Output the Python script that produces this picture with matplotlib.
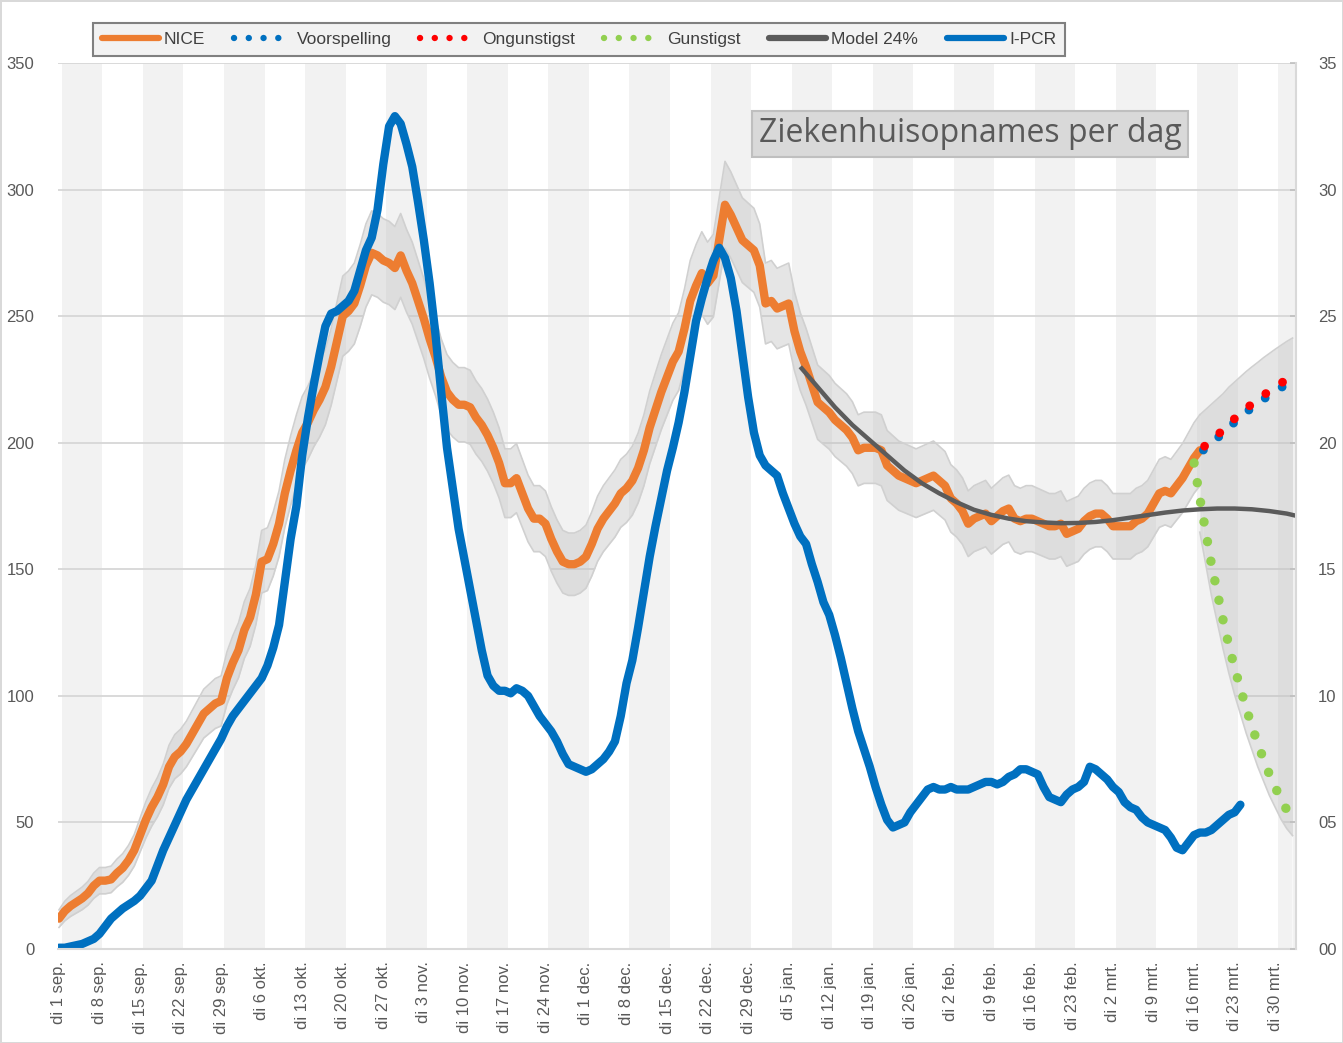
import numpy as np
import matplotlib
matplotlib.use("Agg")
import matplotlib.pyplot as plt
from matplotlib.lines import Line2D
from matplotlib.patches import Rectangle

# ---------------- data ----------------
# day index 0 = di 1 sep.
nice = [12, 15, 17, 18.5, 20, 22, 25, 27, 27, 27.5,
        30, 32, 35, 39, 45, 51, 56, 60, 65, 72,
        76, 78, 81, 85, 89, 93, 95, 97, 98, 107,
        113, 118, 126, 131, 140, 153, 154, 160, 168, 180,
        189, 197, 204, 208, 213, 217, 222, 230, 240, 250,
        252, 255, 262, 270, 275, 274, 272, 271, 269, 274,
        268, 263, 256, 249, 241, 234, 226, 220, 217, 215,
        215, 214, 210, 207, 203, 198, 192, 184, 184, 186,
        180, 174, 170, 170, 168, 162, 157, 153, 152, 152,
        153, 155, 160, 166, 170, 173, 176, 180, 182, 185,
        190, 197, 206, 213, 220, 226, 232, 236, 245, 256,
        262, 267, 263, 266, 280, 294, 290, 285, 280, 278,
        276, 270, 255, 256, 253, 254, 255, 244, 236, 230,
        223, 216, 214, 212, 209, 207, 205, 202, 197, 198,
        198, 198, 197, 191, 189, 187, 186, 185, 184, 185,
        186, 187, 185, 183, 178, 176, 173, 168, 170, 171,
        172, 169, 171, 173, 174, 170, 169, 170, 170, 169,
        168, 167, 167, 168, 164, 165, 166, 169, 171, 172,
        172, 170, 167, 167, 167, 167, 169, 170, 172, 176,
        180, 181, 180, 183, 186, 190, 194, 197]

ipcr = [0.5, 0.5, 1, 1.5, 2, 3, 4, 6, 9, 12,
        14, 16, 17.5, 19, 21, 24, 27, 33, 39, 44,
        49, 54, 59, 63, 67, 71, 75, 79, 83, 88,
        92, 95, 98, 101, 104, 107, 112, 119, 128, 145,
        162, 175, 195, 210, 223, 235, 246, 251, 252, 254,
        256, 260, 268, 276, 281, 292, 310, 325, 329, 326,
        318, 309, 295, 280, 263, 243, 220, 198, 182, 166,
        154, 142, 130, 118, 108, 104, 102, 102, 101, 103,
        102, 100, 96, 92, 89, 86, 82, 77, 73, 72,
        71, 70, 71, 73, 75, 78, 82, 92, 105, 114,
        127, 141, 155, 167, 178, 189, 198, 208, 220, 234,
        248, 257, 265, 272, 277, 273, 265, 252, 235, 218,
        204, 195, 191, 189, 187, 180, 174, 168, 163, 160,
        152, 145, 137, 132, 124, 115, 105, 95, 86, 79,
        72, 64, 57, 51, 48, 49, 50, 54, 57, 60,
        63, 64, 63, 63, 64, 63, 63, 63, 64, 65,
        66, 66, 65, 66, 68, 69, 71, 71, 70, 69,
        64, 60, 59, 58, 61, 63, 64, 66, 72, 71,
        69, 67, 64, 62, 58, 56, 55, 52, 50, 49,
        48, 47, 44, 40, 39, 42, 45, 46, 46, 47,
        49, 51, 53, 54, 57]

model_days = [128, 131, 134, 137, 140, 143, 146, 149, 152, 155, 158, 161,
              164, 167, 170, 173, 176, 179, 182, 185, 188, 191, 194, 197,
              200, 203, 206, 209, 212, 213.5]
model_vals = [230, 222, 214, 207, 201, 195, 189, 184, 180, 176.5, 173.5, 171.5,
              170, 169, 168.5, 168.2, 168.3, 168.7, 169.4, 170.4, 171.4, 172.4,
              173.2, 173.7, 174, 174, 173.7, 173, 172, 171.2]

gunstig_start = 196
gunstigst = [192, 178, 165, 152, 141, 130, 120, 111, 103, 95, 88, 81, 75, 69, 64, 59, 55, 52]
fc_start = 197
ongunstigst = [197, 199, 201, 203, 205, 207.5, 209.5, 211.5, 213.5, 215.3, 217,
               218.8, 220.4, 222, 223.5, 225, 226.3]
voorspelling = [196, 197.8, 199.8, 201.8, 203.8, 206.1, 208.1, 210.1, 212.1, 213.8, 215.5,
                217.2, 218.8, 220.3, 221.7, 223.2, 224.5]

band_k = 1.0  # half-width of the grey uncertainty band ~ k*sqrt(value)

tick_labels = ["di 1 sep.", "di 8 sep.", "di 15 sep.", "di 22 sep.", "di 29 sep.",
               "di 6 okt.", "di 13 okt.", "di 20 okt.", "di 27 okt.", "di 3 nov.",
               "di 10 nov.", "di 17 nov.", "di 24 nov.", "di 1 dec.", "di 8 dec.",
               "di 15 dec.", "di 22 dec.", "di 29 dec.", "di 5 jan.", "di 12 jan.",
               "di 19 jan.", "di 26 jan.", "di 2 feb.", "di 9 feb.", "di 16 feb.",
               "di 23 feb.", "di 2 mrt.", "di 9 mrt.", "di 16 mrt.", "di 23 mrt.",
               "di 30 mrt."]

# ---------------- styling ----------------
C_OR = "#ED7D31"
C_BL = "#0070C0"
C_GR = "#92D050"
C_RD = "#FF0000"
C_MOD = "#5B5B5B"
C_TXT = "#595959"
BANDFILL = "#bfbfbf"

W, H = 1343, 1043
fig = plt.figure(figsize=(W / 100, H / 100), dpi=100)
fig.patch.set_facecolor("white")
fig.patch.set_edgecolor("#d9d9d9")
fig.patch.set_linewidth(2)

ax = fig.add_axes([58 / W, 94 / H, (1296 - 58) / W, (949 - 63) / H])
ax.set_xlim(-0.17, 213.6)
ax.set_ylim(0, 350)

nice = np.array(nice, float)
ipcr = np.array(ipcr, float)
d_nice = np.arange(len(nice))
d_ipcr = np.arange(len(ipcr))
d_gun = gunstig_start + np.arange(len(gunstigst))
d_fc = fc_start + np.arange(len(ongunstigst))
gun = np.array(gunstigst, float)
ong = np.array(ongunstigst, float)
vrs = np.array(voorspelling, float)

n_up = nice + band_k * np.sqrt(nice)
n_lo = nice - band_k * np.sqrt(nice)
gun_fc = gun[d_gun >= fc_start]
f_up = ong + band_k * np.sqrt(ong)
f_lo = gun_fc - band_k * np.sqrt(gun_fc)

# weekly alternating background columns
n_weeks = 16
for k in range(n_weeks):
    ax.axvspan(0.5 + 14 * k, 7.5 + 14 * k, color="#f2f2f2", lw=0, zorder=0)

# gridlines
yt = list(range(0, 351, 50))
for v in yt[1:]:
    ax.axhline(v, color="#d9d9d9", lw=1.4, zorder=0.6)

# area below band hides gridlines (columns stay visible)
x_all = np.concatenate([d_nice, d_fc[1:]])
lo_all = np.concatenate([n_lo, f_lo[1:]])
under = ax.fill_between(x_all, 0, lo_all, color="white", lw=0, zorder=1)
clip = under.get_paths()[0]
for k in range(n_weeks):
    r = Rectangle((0.5 + 14 * k, 0), 7, 350, color="#f2f2f2", lw=0, zorder=1.1)
    ax.add_patch(r)
    r.set_clip_path(clip, under.get_transform())

# uncertainty bands
ax.fill_between(d_nice, n_lo, n_up, color=BANDFILL, alpha=0.4, lw=0, zorder=2)
ax.plot(d_nice, n_up, color="#d0d0d0", lw=1.2, zorder=2.1)
ax.plot(d_nice, n_lo, color="#d0d0d0", lw=1.2, zorder=2.1)
ax.fill_between(d_fc, f_lo, f_up, color=BANDFILL, alpha=0.4, lw=0, zorder=2)
ax.plot(d_fc, f_up, color="#d0d0d0", lw=1.2, zorder=2.1)
ax.plot(d_fc, f_lo, color="#d0d0d0", lw=1.2, zorder=2.1)

# series
ax.plot(d_nice, nice, color=C_OR, lw=6, solid_joinstyle="round",
        solid_capstyle="round", zorder=3)
ax.plot(d_fc, vrs, color=C_BL, lw=6.3, linestyle=(1.8, (0.01, 2.3)),
        dash_capstyle="round", zorder=3.2)
ax.plot(d_fc, ong, color=C_RD, lw=6.3, linestyle=(1.6, (0.01, 2.3)),
        dash_capstyle="round", zorder=3.3)
ax.plot(d_gun, gun, color=C_GR, lw=6.8, linestyle=(0, (0.01, 2.1)),
        dash_capstyle="round", zorder=3.3)
ax.plot(model_days, model_vals, color=C_MOD, lw=3.2, solid_capstyle="butt", zorder=3.4)
ax.plot(d_ipcr, ipcr, color=C_BL, lw=6, solid_joinstyle="round",
        solid_capstyle="round", zorder=3.5)

# axes styling
for s in ["left", "top", "right"]:
    ax.spines[s].set_visible(False)
ax.spines["bottom"].set_color("#d9d9d9")
ax.spines["bottom"].set_linewidth(1.5)
ax.spines["bottom"].set_zorder(4)

ax.set_yticks(yt)
ax.set_yticklabels([str(v) for v in yt])
ax.tick_params(axis="y", length=0, pad=17, labelsize=12, labelcolor=C_TXT)
ax.set_xticks([7 * i for i in range(len(tick_labels))])
ax.set_xticklabels(tick_labels, rotation=90, fontsize=12, color=C_TXT,
                   family=["Liberation Sans", "DejaVu Sans"])
ax.tick_params(axis="x", length=0, pad=9)
for t in ax.get_yticklabels():
    t.set_family(["Liberation Sans", "DejaVu Sans"])

ax2 = ax.twinx()
ax2.set_ylim(0, 35)
rt = list(range(0, 36, 5))
ax2.set_yticks(rt)
ax2.set_yticklabels([f"{v:02d}" for v in rt], family=["Liberation Sans", "DejaVu Sans"])
ax2.tick_params(axis="y", direction="in", length=4, width=1.2, color="#bfbfbf",
                pad=16, labelsize=12, labelcolor=C_TXT)
for s in ["left", "top", "bottom"]:
    ax2.spines[s].set_visible(False)
ax2.spines["right"].set_color("#d9d9d9")
ax2.spines["right"].set_linewidth(1.5)

# title box
fig.text(970 / W, 1 - 134 / H, "Ziekenhuisopnames per dag", fontsize=23,
         family=["Open Sans", "DejaVu Sans"], color=C_TXT, ha="center", va="center",
         bbox=dict(boxstyle="square,pad=0.2", fc="#d9d9d9", ec="#bfbfbf", lw=1.5))

# legend
handles = [
    Line2D([], [], color=C_OR, lw=4.5, solid_capstyle="round"),
    Line2D([], [], color=C_BL, lw=4.6, linestyle=(0, (0.01, 2.3)), dash_capstyle="round"),
    Line2D([], [], color=C_RD, lw=4.6, linestyle=(0, (0.01, 2.3)), dash_capstyle="round"),
    Line2D([], [], color=C_GR, lw=4.6, linestyle=(0, (0.01, 2.3)), dash_capstyle="round"),
    Line2D([], [], color=C_MOD, lw=4.5, solid_capstyle="round"),
    Line2D([], [], color=C_BL, lw=4.5, solid_capstyle="round"),
]
labels = ["NICE", "Voorspelling", "Ongunstigst", "Gunstigst", "Model 24%", "I-PCR"]
leg = fig.legend(handles, labels, loc="center", bbox_to_anchor=(579 / W, 1 - 39.5 / H),
                 ncol=6, frameon=True, fancybox=False, framealpha=1,
                 facecolor="#f2f2f2", edgecolor="#808080",
                 prop={"family": ["Liberation Sans Narrow", "Liberation Sans", "DejaVu Sans"],
                       "size": 12.5},
                 labelcolor="#404040", handlelength=3.3, handletextpad=0.3,
                 columnspacing=1.65, borderpad=0.5)
leg.get_frame().set_linewidth(1.5)

fig.savefig("out.png", dpi=100)
